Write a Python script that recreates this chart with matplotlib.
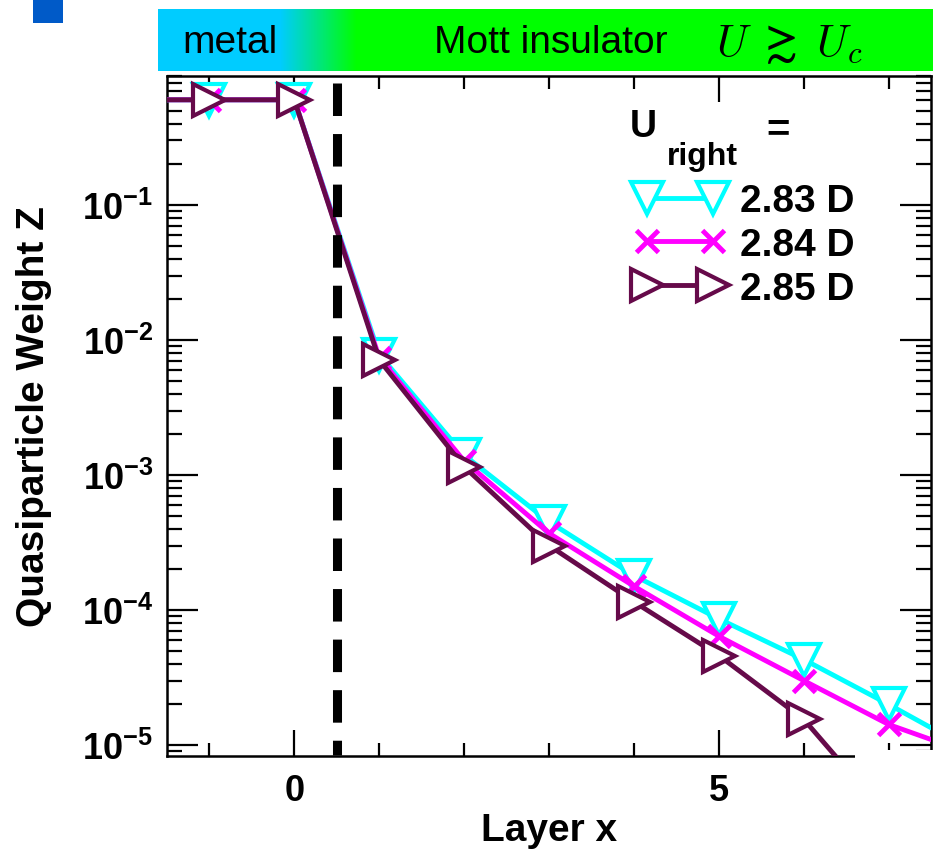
import numpy as np
import matplotlib
matplotlib.use("Agg")
import matplotlib.pyplot as plt
from matplotlib.patches import Rectangle
from matplotlib.ticker import LogLocator, MultipleLocator, FuncFormatter, NullFormatter

plt.rcParams["font.family"] = ["Liberation Sans", "DejaVu Sans"]
plt.rcParams["font.weight"] = "bold"
plt.rcParams["mathtext.fontset"] = "custom"
plt.rcParams["mathtext.rm"] = "Liberation Sans:bold"
plt.rcParams["mathtext.it"] = "Liberation Sans:italic:bold"
plt.rcParams["mathtext.bf"] = "Liberation Sans:bold"

# data
layers = [-2, -1, 0, 1, 2, 3, 4, 5, 6, 7, 8]
z_283 = [0.6, 0.6, 0.6, 7.8e-3, 1.40e-3, 4.5e-4, 1.80e-4, 8.6e-5, 4.3e-5, 2.0e-5, 9.0e-6]
z_284 = [0.6, 0.6, 0.6, 7.4e-3, 1.27e-3, 3.7e-4, 1.50e-4, 6.4e-5, 3.0e-5, 1.42e-5, 8.5e-6]
z_285 = [0.6, 0.6, 0.6, 7.1e-3, 1.15e-3, 3.0e-4, 1.15e-4, 4.6e-5, 1.55e-5, 2.9e-6, 1.0e-6]
labels = ["2.83 D", "2.84 D", "2.85 D"]
interface_x = 0.5

fig = plt.figure(figsize=(9.33, 8.54), dpi=100)
ax = fig.add_axes([0.179, 0.1136, 0.819, 0.7962])

ax.plot(layers, z_283, color="#00ffff", lw=3.5, marker="v", ms=23, mew=3,
        mfc="white", mec="#00ffff", label=labels[0], zorder=3)
ax.plot(layers, z_284, color="#ff00ff", lw=3.5, marker="x", ms=16, mew=3.5,
        label=labels[1], zorder=4)
ax.plot(layers, z_285, color="#660a4a", lw=3.5, marker=">", ms=23, mew=3,
        mfc="white", mec="#660a4a", label=labels[2], zorder=5)
ax.plot([interface_x, interface_x], [0.8, 8.4e-6], color="black", lw=6.5,
        dashes=(3.6, 2.0), zorder=6)

ax.set_yscale("log")
ax.set_xlim(-1.5, 7.5)
ax.set_ylim(8.3e-6, 0.9)

ax.xaxis.set_major_locator(MultipleLocator(5))
ax.xaxis.set_minor_locator(MultipleLocator(1))
ax.yaxis.set_major_locator(LogLocator(base=10, numticks=20))
ax.yaxis.set_minor_locator(LogLocator(base=10, subs=np.arange(2, 10), numticks=20))
ax.yaxis.set_major_formatter(FuncFormatter(lambda v, p: r"$10^{%d}$" % round(np.log10(v))))
ax.yaxis.set_minor_formatter(NullFormatter())

ax.tick_params(which="both", direction="in", top=True, right=True, width=1.6, labelsize=26)
ax.tick_params(axis="y", which="major", length=22, pad=10)
ax.tick_params(axis="y", which="minor", length=11)
ax.tick_params(axis="x", which="major", length=19, pad=12)
ax.tick_params(axis="x", which="minor", length=9.5)
for s in ax.spines.values():
    s.set_linewidth(1.8)

ax.set_xlabel("Layer x", fontsize=28, fontweight="bold")
ax.set_ylabel("Quasiparticle Weight Z", fontsize=28, fontweight="bold")
ax.xaxis.set_label_coords(0.5, -0.083)
ax.yaxis.set_label_coords(-0.150, 0.5)

# legend title "U_right =" drawn in pieces, entries below it
ax.text(0.606, 0.9118, "U", transform=ax.transAxes, fontsize=27, fontweight="bold",
        ha="left", va="baseline")
ax.text(0.654, 0.871, "right", transform=ax.transAxes, fontsize=23, fontweight="bold",
        ha="left", va="baseline")
ax.text(0.785, 0.906, "=", transform=ax.transAxes, fontsize=29, fontweight="bold",
        ha="left", va="baseline")
leg = ax.legend(loc="upper left", bbox_to_anchor=(0.587, 0.871), frameon=False,
                numpoints=2, handlelength=2.3, handletextpad=0.4, labelspacing=0.2,
                borderpad=0, fontsize=28)

# white patch over the bottom right corner
fig.add_artist(Rectangle((855 / 933, 0), 78 / 933, 103 / 854, transform=fig.transFigure,
                         facecolor="white", edgecolor="none", zorder=10))

# banner on top
bax = fig.add_axes([158 / 933, 1 - 72 / 854, 775 / 933, 62 / 854])
px = np.arange(158, 933)
t = np.clip((px - 280) / (356 - 280), 0, 1)
cyan = np.array([0.0, 0.8, 1.0])
green = np.array([0.0, 1.0, 0.0])
grad = (1 - t)[:, None] * cyan + t[:, None] * green
bax.imshow(grad[None, :, :], aspect="auto", extent=(0, 1, 0, 1))
bax.set_axis_off()
fig.text(182 / 933, 1 - 43 / 854, "metal", fontsize=28, fontweight="normal", va="center")
fig.text(434 / 933, 1 - 43 / 854, "Mott insulator", fontsize=28, fontweight="normal", va="center")
fig.text(716 / 933, 1 - 45 / 854, r"$U\;\gtrsim\;U_c$", fontsize=32, va="center",
         math_fontfamily="cm")

# small blue square
fig.add_artist(Rectangle((33 / 933, 1 - 24 / 854), 30 / 933, 24 / 854, transform=fig.transFigure,
                         facecolor="#005ac8", edgecolor="none"))

fig.savefig("out.png", dpi=100)
